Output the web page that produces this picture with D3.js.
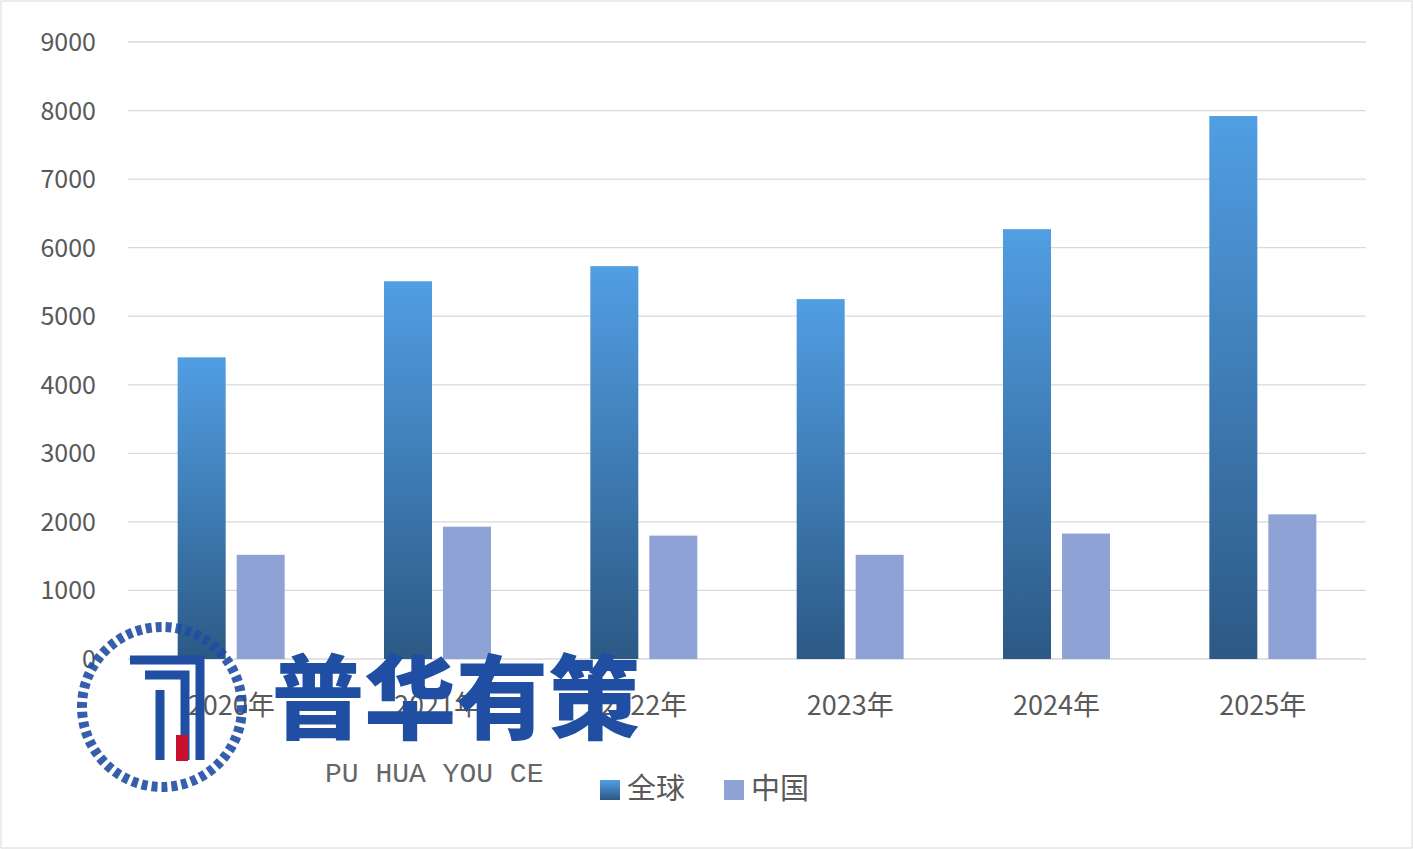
<!DOCTYPE html><html><head><meta charset="utf-8"><script src="https://cdn.jsdelivr.net/npm/d3@7"></script>
<style>body{margin:0;background:#fff}svg{display:block}</style></head><body><script>
const categories=["2020年","2021年","2022年","2023年","2024年","2025年"];
const globalVals=[4400,5510,5730,5250,6270,7920];
const chinaVals=[1520,1930,1800,1520,1830,2110];
const yTicks=[0,1000,2000,3000,4000,5000,6000,7000,8000,9000];
const seriesNames=["全球","中国"];
const W=1413,H=849;
const svg=d3.select("body").append("svg").attr("width",W).attr("height",H);
svg.append("rect").attr("x",1).attr("y",1).attr("width",W-2).attr("height",H-2).attr("fill","#fff").attr("stroke","#d9d9d9");
const defs=svg.append("defs");
const g=defs.append("linearGradient").attr("id","gb").attr("x1",0).attr("x2",0).attr("y1",0).attr("y2",1);
g.append("stop").attr("offset","0%").attr("stop-color","#519ee3");
g.append("stop").attr("offset","100%").attr("stop-color","#2c5985");
const x=d3.scaleBand().domain(categories).range([128,1366]);
const y=d3.scaleLinear().domain([0,9000]).range([659,42]);
const font="'Noto Sans CJK SC','DejaVu Sans',sans-serif";
svg.selectAll(".gl").data(yTicks).join("line").attr("x1",128).attr("x2",1366)
 .attr("y1",d=>y(d)).attr("y2",d=>y(d)).attr("stroke","#d9d9d9").attr("stroke-width",1.3);
svg.selectAll(".yt").data(yTicks).join("text").attr("x",96).attr("y",d=>y(d)+9).attr("text-anchor","end")
 .attr("font-family",font).attr("font-size",25).attr("fill","#595959").text(d=>d);
const bw=48,gap=11;
svg.selectAll(".bg").data(globalVals).join("rect").attr("x",(d,i)=>x(categories[i])+x.bandwidth()/2-gap/2-bw)
 .attr("width",bw).attr("y",d=>y(d)).attr("height",d=>659-y(d)).attr("fill","url(#gb)");
svg.selectAll(".bc").data(chinaVals).join("rect").attr("x",(d,i)=>x(categories[i])+x.bandwidth()/2+gap/2)
 .attr("width",bw).attr("y",d=>y(d)).attr("height",d=>659-y(d)).attr("fill","#8fa2d5");
svg.selectAll(".xt").data(categories).join("text").attr("x",d=>x(d)+x.bandwidth()/2).attr("y",715).attr("text-anchor","middle")
 .attr("font-family",font).attr("font-size",27).attr("fill","#595959").text(d=>d);
// legend
const lg=[[600,"url(#gb)"],[724,"#8fa2d5"]];
lg.forEach((l,i)=>{svg.append("rect").attr("x",l[0]).attr("y",780).attr("width",20).attr("height",20).attr("fill",l[1]);
 svg.append("text").attr("x",l[0]+27).attr("y",799).attr("font-family",font).attr("font-size",29).attr("fill","#595959").text(seriesNames[i]);});
// watermark
const wm=svg.append("g");
wm.append("circle").attr("cx",162).attr("cy",707).attr("r",80).attr("fill","none").attr("stroke","#1f4ea3").attr("stroke-width",10).attr("stroke-dasharray","6 4").attr("opacity",0.9);
wm.append("path").attr("d","M130 660 H200 V760 M145 675 H185 V760 M160 690 V760").attr("fill","none").attr("stroke","#1f4ea3").attr("stroke-width",9);
wm.append("rect").attr("x",176).attr("y",735).attr("width",12).attr("height",26).attr("fill","#c8102e");
wm.append("text").attr("x",272).attr("y",732).attr("font-family",font).attr("font-weight",900).attr("font-size",92).attr("fill","#1f4ea3").text("普华有策");
wm.append("text").attr("x",325).attr("y",782).attr("font-family","'Liberation Mono',monospace").attr("font-size",28).attr("fill","#666").text("PU HUA YOU CE");
</script></body></html>
